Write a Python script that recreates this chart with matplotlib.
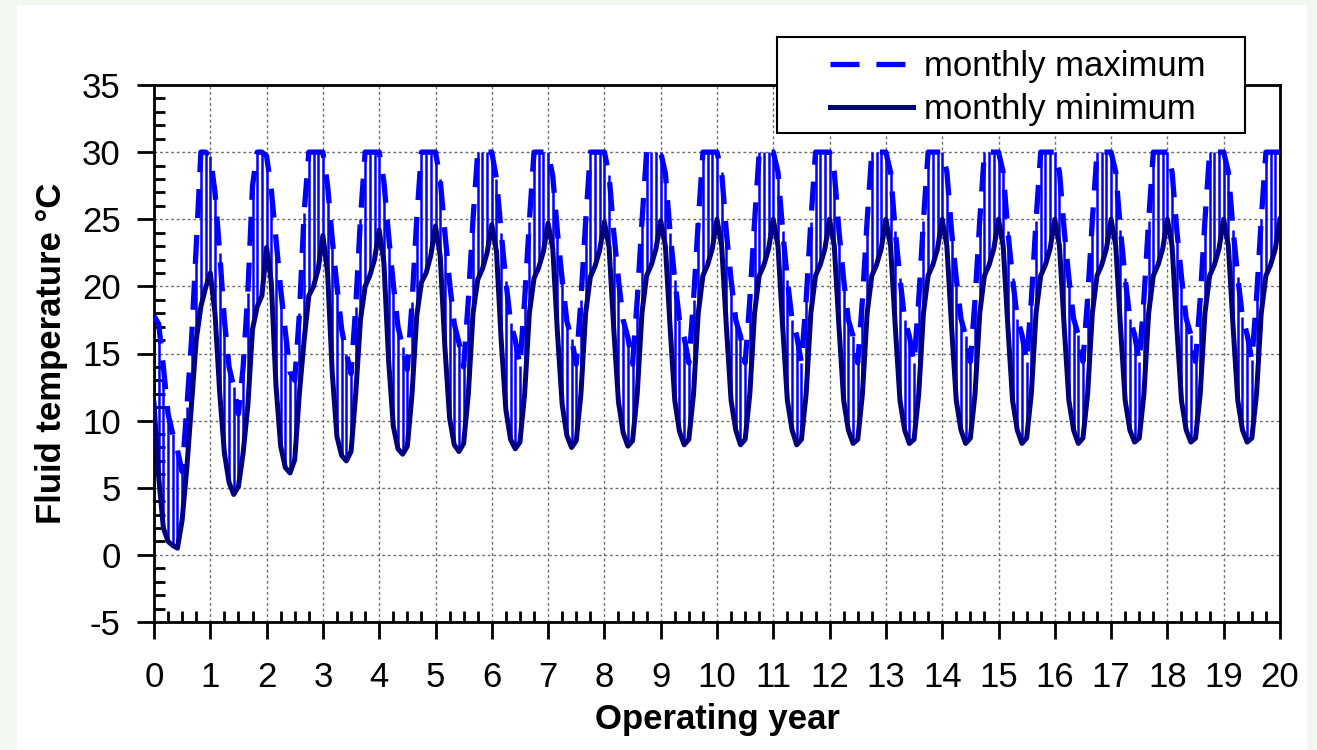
import numpy as np
import matplotlib.pyplot as plt
from matplotlib.patches import Rectangle
from matplotlib.ticker import MultipleLocator

plt.rcParams['font.family'] = ['Liberation Sans', 'DejaVu Sans']
plt.rcParams['axes.unicode_minus'] = False

# monthly fluid temperatures (deg C), one row per operating year, last value = year 20
t_max = [
    17.8, 17.2, 14.0, 10.5, 9.0, 7.8, 6.2, 11.0, 16.0, 23.0, 30.0, 30.0,
    29.7, 27.0, 22.5, 17.5, 14.0, 12.5, 10.5, 14.0, 19.5, 27.5, 30.0, 30.0,
    29.7, 27.2, 23.5, 19.8, 16.6, 13.6, 13.0, 18.0, 25.5, 30.0, 30.0, 30.0,
    30.0, 27.5, 23.5, 20.0, 16.8, 15.0, 13.5, 18.5, 25.0, 30.0, 30.0, 30.0,
    30.0, 27.8, 23.8, 20.2, 17.0, 15.5, 13.8, 18.8, 25.0, 30.0, 30.0, 30.0,
    30.0, 28.0, 24.0, 20.3, 17.2, 15.8, 14.0, 19.0, 25.0, 30.0, 30.0, 30.0,
    30.0, 28.0, 24.0, 20.4, 17.3, 16.0, 14.1, 19.0, 24.8, 30.0, 30.0, 30.0,
    30.0, 28.2, 24.0, 20.5, 17.4, 16.1, 14.2, 19.0, 24.8, 30.0, 30.0, 30.0,
    30.0, 28.3, 24.0, 20.5, 17.5, 16.2, 14.2, 19.0, 24.8, 30.0, 30.0, 30.0,
    30.0, 28.4, 24.0, 20.5, 17.5, 16.2, 14.3, 19.0, 24.8, 30.0, 30.0, 30.0,
    30.0, 28.5, 24.0, 20.5, 17.5, 16.3, 14.3, 19.0, 24.8, 30.0, 30.0, 30.0,
    30.0, 28.5, 24.1, 20.5, 17.5, 16.3, 14.3, 19.0, 24.8, 30.0, 30.0, 30.0,
    30.0, 28.5, 24.1, 20.5, 17.5, 16.3, 14.3, 19.0, 24.9, 30.0, 30.0, 30.0,
    30.0, 28.5, 24.1, 20.6, 17.5, 16.3, 14.3, 19.0, 24.9, 30.0, 30.0, 30.0,
    30.0, 28.5, 24.1, 20.6, 17.6, 16.3, 14.4, 19.0, 24.9, 30.0, 30.0, 30.0,
    30.0, 28.5, 24.1, 20.6, 17.6, 16.4, 14.4, 19.0, 24.9, 30.0, 30.0, 30.0,
    30.0, 28.5, 24.2, 20.6, 17.6, 16.4, 14.4, 19.1, 24.9, 30.0, 30.0, 30.0,
    30.0, 28.5, 24.2, 20.6, 17.6, 16.4, 14.4, 19.1, 24.9, 30.0, 30.0, 30.0,
    30.0, 28.5, 24.2, 20.7, 17.6, 16.4, 14.4, 19.1, 24.9, 30.0, 30.0, 30.0,
    30.0, 28.5, 24.2, 20.7, 17.7, 16.4, 14.5, 19.1, 25.0, 30.0, 30.0, 30.0,
    30.0,
]
t_min = [
    11.3, 5.8, 2.0, 1.0, 0.7, 0.5, 2.6, 6.5, 11.3, 16.0, 18.5, 19.9,
    21.0, 18.0, 12.1, 7.6, 5.4, 4.5, 5.1, 7.6, 11.1, 16.8, 18.5, 19.3,
    22.9, 20.3, 12.6, 8.1, 6.5, 6.1, 7.1, 12.1, 16.0, 19.3, 20.0, 21.3,
    23.8, 21.0, 13.5, 8.8, 7.4, 7.0, 7.7, 12.0, 17.5, 20.0, 20.8, 22.0,
    24.2, 21.8, 14.5, 9.6, 7.9, 7.5, 8.1, 12.0, 17.8, 20.3, 21.0, 22.3,
    24.5, 22.3, 15.5, 10.2, 8.2, 7.7, 8.3, 12.0, 18.0, 20.5, 21.3, 22.5,
    24.6, 22.6, 16.0, 10.8, 8.6, 7.9, 8.4, 12.0, 18.0, 20.6, 21.4, 22.6,
    24.7, 22.8, 16.5, 11.2, 8.9, 8.0, 8.5, 12.0, 18.0, 20.7, 21.5, 22.7,
    24.8, 22.9, 16.8, 11.4, 9.1, 8.1, 8.5, 12.0, 18.0, 20.8, 21.6, 22.8,
    24.9, 23.0, 17.0, 11.5, 9.2, 8.2, 8.6, 12.0, 18.0, 20.8, 21.6, 22.8,
    25.0, 23.0, 17.0, 11.5, 9.3, 8.2, 8.6, 12.0, 18.0, 20.8, 21.6, 22.8,
    25.0, 23.0, 17.0, 11.5, 9.3, 8.2, 8.6, 12.0, 18.0, 20.8, 21.6, 22.8,
    25.0, 23.0, 17.0, 11.5, 9.3, 8.3, 8.6, 12.0, 18.0, 20.8, 21.6, 22.8,
    25.0, 23.0, 17.0, 11.5, 9.3, 8.3, 8.6, 12.0, 18.0, 20.8, 21.6, 22.8,
    25.0, 23.0, 17.0, 11.5, 9.3, 8.3, 8.7, 12.0, 18.0, 20.8, 21.6, 22.8,
    25.0, 23.0, 17.0, 11.5, 9.3, 8.3, 8.7, 12.0, 18.0, 20.8, 21.6, 22.8,
    25.0, 23.0, 17.0, 11.5, 9.3, 8.3, 8.7, 12.0, 18.0, 20.8, 21.6, 22.8,
    25.0, 23.0, 17.0, 11.5, 9.3, 8.4, 8.7, 12.0, 18.0, 20.8, 21.6, 22.8,
    25.0, 23.0, 17.0, 11.5, 9.3, 8.4, 8.7, 12.0, 18.0, 20.8, 21.6, 22.8,
    25.0, 23.0, 17.0, 11.5, 9.3, 8.4, 8.7, 12.0, 18.0, 20.8, 21.6, 22.8,
    25.0,
]
labels = ["monthly maximum", "monthly minimum"]

years = np.arange(len(t_max)) / 12.0

W, H = 1317, 750
fig = plt.figure(figsize=(W / 100, H / 100), dpi=100)
fig.patch.set_facecolor('#f2f7ef')
fig.add_artist(Rectangle((17 / W, 0), 1290 / W, 745 / H, transform=fig.transFigure,
                         facecolor='white', edgecolor='none', zorder=-10))

ax = fig.add_axes([154 / W, 128 / H, 1126 / W, 537 / H])

ax.vlines(years, t_min, t_max, color='#0000ff', lw=1.8, zorder=2)
l_max, = ax.plot(years, t_max, color='#0000ff', lw=3.8, dashes=(5.5, 3.2), zorder=3)
l_min, = ax.plot(years, t_min, color='#000080', lw=3.6, zorder=4)

ax.set_xlim(0, 20)
ax.set_ylim(-5, 35)
ax.xaxis.set_major_locator(MultipleLocator(1))
ax.xaxis.set_minor_locator(MultipleLocator(0.25))
ax.yaxis.set_major_locator(MultipleLocator(5))
ax.yaxis.set_minor_locator(MultipleLocator(1))
ax.tick_params(which='major', direction='out', length=12, width=2, labelsize=25)
ax.tick_params(which='minor', direction='in', length=8, width=2)
ax.tick_params(axis='x', which='major', pad=16)
ax.tick_params(axis='y', which='major', pad=12)
for s in ax.spines.values():
    s.set_linewidth(2)

ax.grid(True, which='major', color='#6e6e6e', linestyle=(0, (2, 2)), linewidth=1.0)
ax.set_axisbelow(True)

ax.set_xlabel('Operating year', fontsize=25, fontweight='bold')
ax.set_ylabel('Fluid temperature °C', fontsize=25, fontweight='bold')
ax.xaxis.set_label_coords(0.5, -0.15)
ax.yaxis.set_label_coords(-0.076, 0.5)

# legend box sits over the top spine
fig.add_artist(Rectangle((777 / W, (H - 133) / H), 468 / W, 96 / H, transform=fig.transFigure,
                         facecolor='white', edgecolor='black', lw=1.5, zorder=10))
leg = fig.legend([l_max, l_min], labels, loc='upper left',
                 bbox_to_anchor=(830 / W, 1 - 50 / H), frameon=False, fontsize=25,
                 handlelength=2.4, handletextpad=0.3, labelspacing=0.3,
                 borderpad=0, borderaxespad=0)
leg.set_zorder(11)

fig.savefig('out.png', dpi=100, facecolor=fig.get_facecolor())
